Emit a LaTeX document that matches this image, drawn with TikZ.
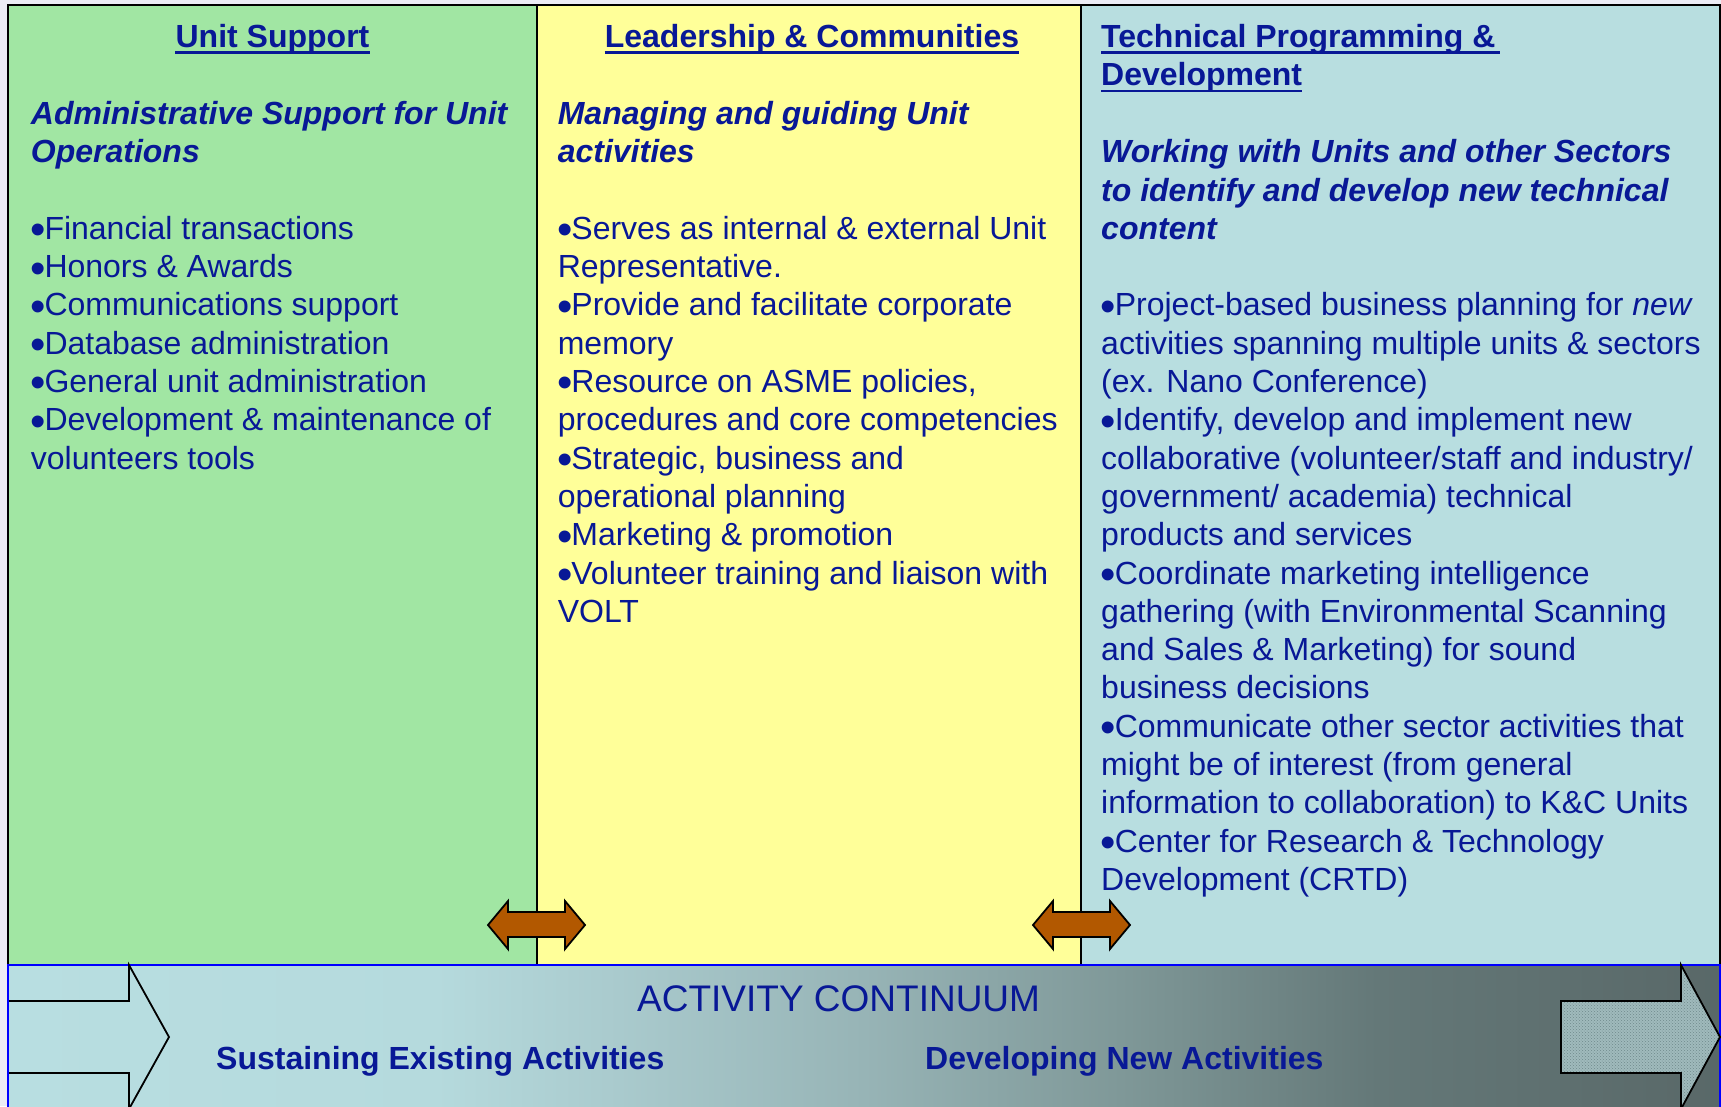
\documentclass[tikz,border=0pt]{standalone}
\usepackage{fontspec}
\setmainfont{Liberation Sans}
\usetikzlibrary{patterns}
\definecolor{textblue}{RGB}{8,24,150}
\definecolor{colgreen}{RGB}{161,230,163}
\definecolor{colyellow}{RGB}{255,255,153}
\definecolor{colblue}{RGB}{184,222,224}
\definecolor{bgcol}{RGB}{236,236,245}
\definecolor{arrowbrown}{RGB}{178,88,0}
\definecolor{bandA}{RGB}{184,222,225}
\definecolor{bandB}{RGB}{181,218,221}
\definecolor{bandC}{RGB}{170,203,206}
\definecolor{bandD}{RGB}{151,180,182}
\definecolor{bandE}{RGB}{127,152,152}
\definecolor{bandF}{RGB}{100,120,120}
\definecolor{bandG}{RGB}{89,104,104}
\definecolor{texfill}{RGB}{160,186,188}
\definecolor{texdot}{RGB}{110,138,140}
\newcommand\mybul{\makebox[13.6pt][l]{\kern-0.7pt\smash{\raisebox{-5.4pt}{\scalebox{1.37}{•}}}}}
\pgfdeclarehorizontalshading{bandshade}{100bp}{color(0bp)=(bandA); color(25bp)=(bandA); color(37.5bp)=(bandB); color(42.5bp)=(bandC); color(50bp)=(bandD); color(57.5bp)=(bandE); color(65bp)=(bandF); color(75bp)=(bandG); color(100bp)=(bandG)}
\begin{document}
\begin{tikzpicture}[x=1pt,y=-1pt,
  txt/.style={anchor=base west, inner sep=0pt, text=textblue, font=\fontsize{32}{38.3}\selectfont},
  hdr/.style={txt, font=\fontsize{32}{38.3}\selectfont\bfseries},
  subt/.style={txt, font=\fontsize{32}{38.3}\selectfont\bfseries\itshape},
  uline/.style={draw=textblue, line width=2.6pt},
  dblarrow/.style={fill=arrowbrown, draw=black, line width=1.8pt, line join=miter},
  frameline/.style={draw=black, line width=2pt}]
\useasboundingbox (0,0) rectangle (1721,1106);
\clip (0,0) rectangle (1721,1106);
\fill[bgcol] (0,0) rectangle (1721,1106);
% columns
\fill[colgreen] (8,5) rectangle (537,965);
\fill[colyellow] (537,5) rectangle (1081,965);
\fill[colblue] (1081,5) rectangle (1720,965);
\draw[frameline] (8,965) -- (8,5) -- (1720,5) -- (1720,965);
\draw[black, line width=1.6pt] (537,5) -- (537,965);
\draw[black, line width=1.6pt] (1081,5) -- (1081,965);
% band
\fill[shading=bandshade] (8,965) rectangle (1720,1115);
\draw[blue, line width=2.6pt] (8,1115) -- (8,965) -- (1720,965) -- (1720,1115);
% band arrows
\draw[black, line width=1.8pt, line join=miter] (9,1001) -- (129,1001) -- (129,965) -- (169,1037) -- (129,1109) -- (129,1073) -- (9,1073);
\path[fill=texfill] (1561,1001) -- (1681,1001) -- (1681,965) -- (1720,1037) -- (1681,1109) -- (1681,1073) -- (1561,1073) -- cycle;
\path[pattern=crosshatch dots, pattern color=texdot] (1561,1001) -- (1681,1001) -- (1681,965) -- (1720,1037) -- (1681,1109) -- (1681,1073) -- (1561,1073) -- cycle;
\draw[black, line width=1.8pt, line join=miter] (1561,1001) -- (1681,1001) -- (1681,965) -- (1720,1037) -- (1681,1109) -- (1681,1073) -- (1561,1073) -- cycle;
% double arrows
\draw[dblarrow] (488,925) -- (508,901) -- (508,912) -- (565,912) -- (565,901) -- (585,925) -- (565,949) -- (565,937) -- (508,937) -- (508,949) -- cycle;
\draw[dblarrow] (1033,925) -- (1053,901) -- (1053,912) -- (1110,912) -- (1110,901) -- (1130,925) -- (1110,949) -- (1110,937) -- (1053,937) -- (1053,949) -- cycle;
% column 1
\node[hdr, anchor=base] (h1) at (272.5,47.5) {Unit Support};
\draw[uline] ([yshift=-5pt]h1.base west) -- ([yshift=-5pt]h1.base east);
\node[subt] (s1a) at (30.7,124.4) {Administrative Support for Unit};
\node[subt] (s1b) at (30.7,162.7) {Operations};
\foreach \txt [count=\i from 0] in {{\mybul Financial transactions},{\mybul Honors \& Awards},{\mybul Communications support},{\mybul Database administration},{\mybul General unit administration},{\mybul Development \& maintenance of},{volunteers tools}}
  \node[txt] (c1l\i) at (30.7,{47.8+38.3*(5+\i)}) {\txt};
% column 2
\node[hdr, anchor=base] (h2) at (812,47.5) {Leadership \& Communities};
\draw[uline] ([yshift=-5pt]h2.base west) -- ([yshift=-5pt]h2.base east);
\node[subt] (s2a) at (557.6,124.4) {Managing and guiding Unit};
\node[subt] (s2b) at (557.6,162.7) {activities};
\foreach \txt [count=\i from 0] in {{\mybul Serves as internal \& external Unit},{Representative.},{\mybul Provide and facilitate corporate},{memory},{\mybul Resource on ASME policies,},{procedures and core competencies},{\mybul Strategic, business and},{operational planning},{\mybul Marketing \& promotion},{\mybul Volunteer training and liaison with},{VOLT}}
  \node[txt] (c2l\i) at (557.6,{47.8+38.3*(5+\i)}) {\txt};
% column 3
\node[hdr] (h3a) at (1101,47.5) {Technical Programming \&};
\node[hdr] (h3b) at (1101,85.8) {Development};
\draw[uline] ([yshift=-5pt]h3a.base west) -- ([yshift=-5pt,xshift=4pt]h3a.base east);
\draw[uline] ([yshift=-5pt]h3b.base west) -- ([yshift=-5pt]h3b.base east);
\node[subt] (s3a) at (1101,162.7) {Working with Units and other Sectors};
\node[subt] (s3b) at (1101,201) {to identify and develop new technical};
\node[subt] (s3c) at (1101,239.3) {content};
\foreach \txt [count=\i from 0] in {{\mybul Project-based business planning for \textit{new}},{activities spanning multiple units \& sectors},{(ex. Nano Conference)},{\mybul Identify, develop and implement new},{collaborative (volunteer/staff and industry/},{government/ academia) technical},{products and services},{\mybul Coordinate marketing intelligence},{gathering (with Environmental Scanning},{and Sales \& Marketing) for sound},{business decisions},{\mybul Communicate other sector activities that},{might be of interest (from general},{information to collaboration) to K\&C Units},{\mybul Center for Research \& Technology},{Development (CRTD)}}
  \node[txt] (c3l\i) at (1101,{47.8+38.3*(7+\i)}) {\txt};
% band texts
\node[txt, anchor=base, font=\fontsize{37}{44}\selectfont] (cont) at (838.6,1011) {ACTIVITY CONTINUUM};
\node[hdr] (sust) at (216,1069) {Sustaining Existing Activities};
\node[hdr] (devl) at (925,1069) {Developing New Activities};
\end{tikzpicture}
\end{document}
